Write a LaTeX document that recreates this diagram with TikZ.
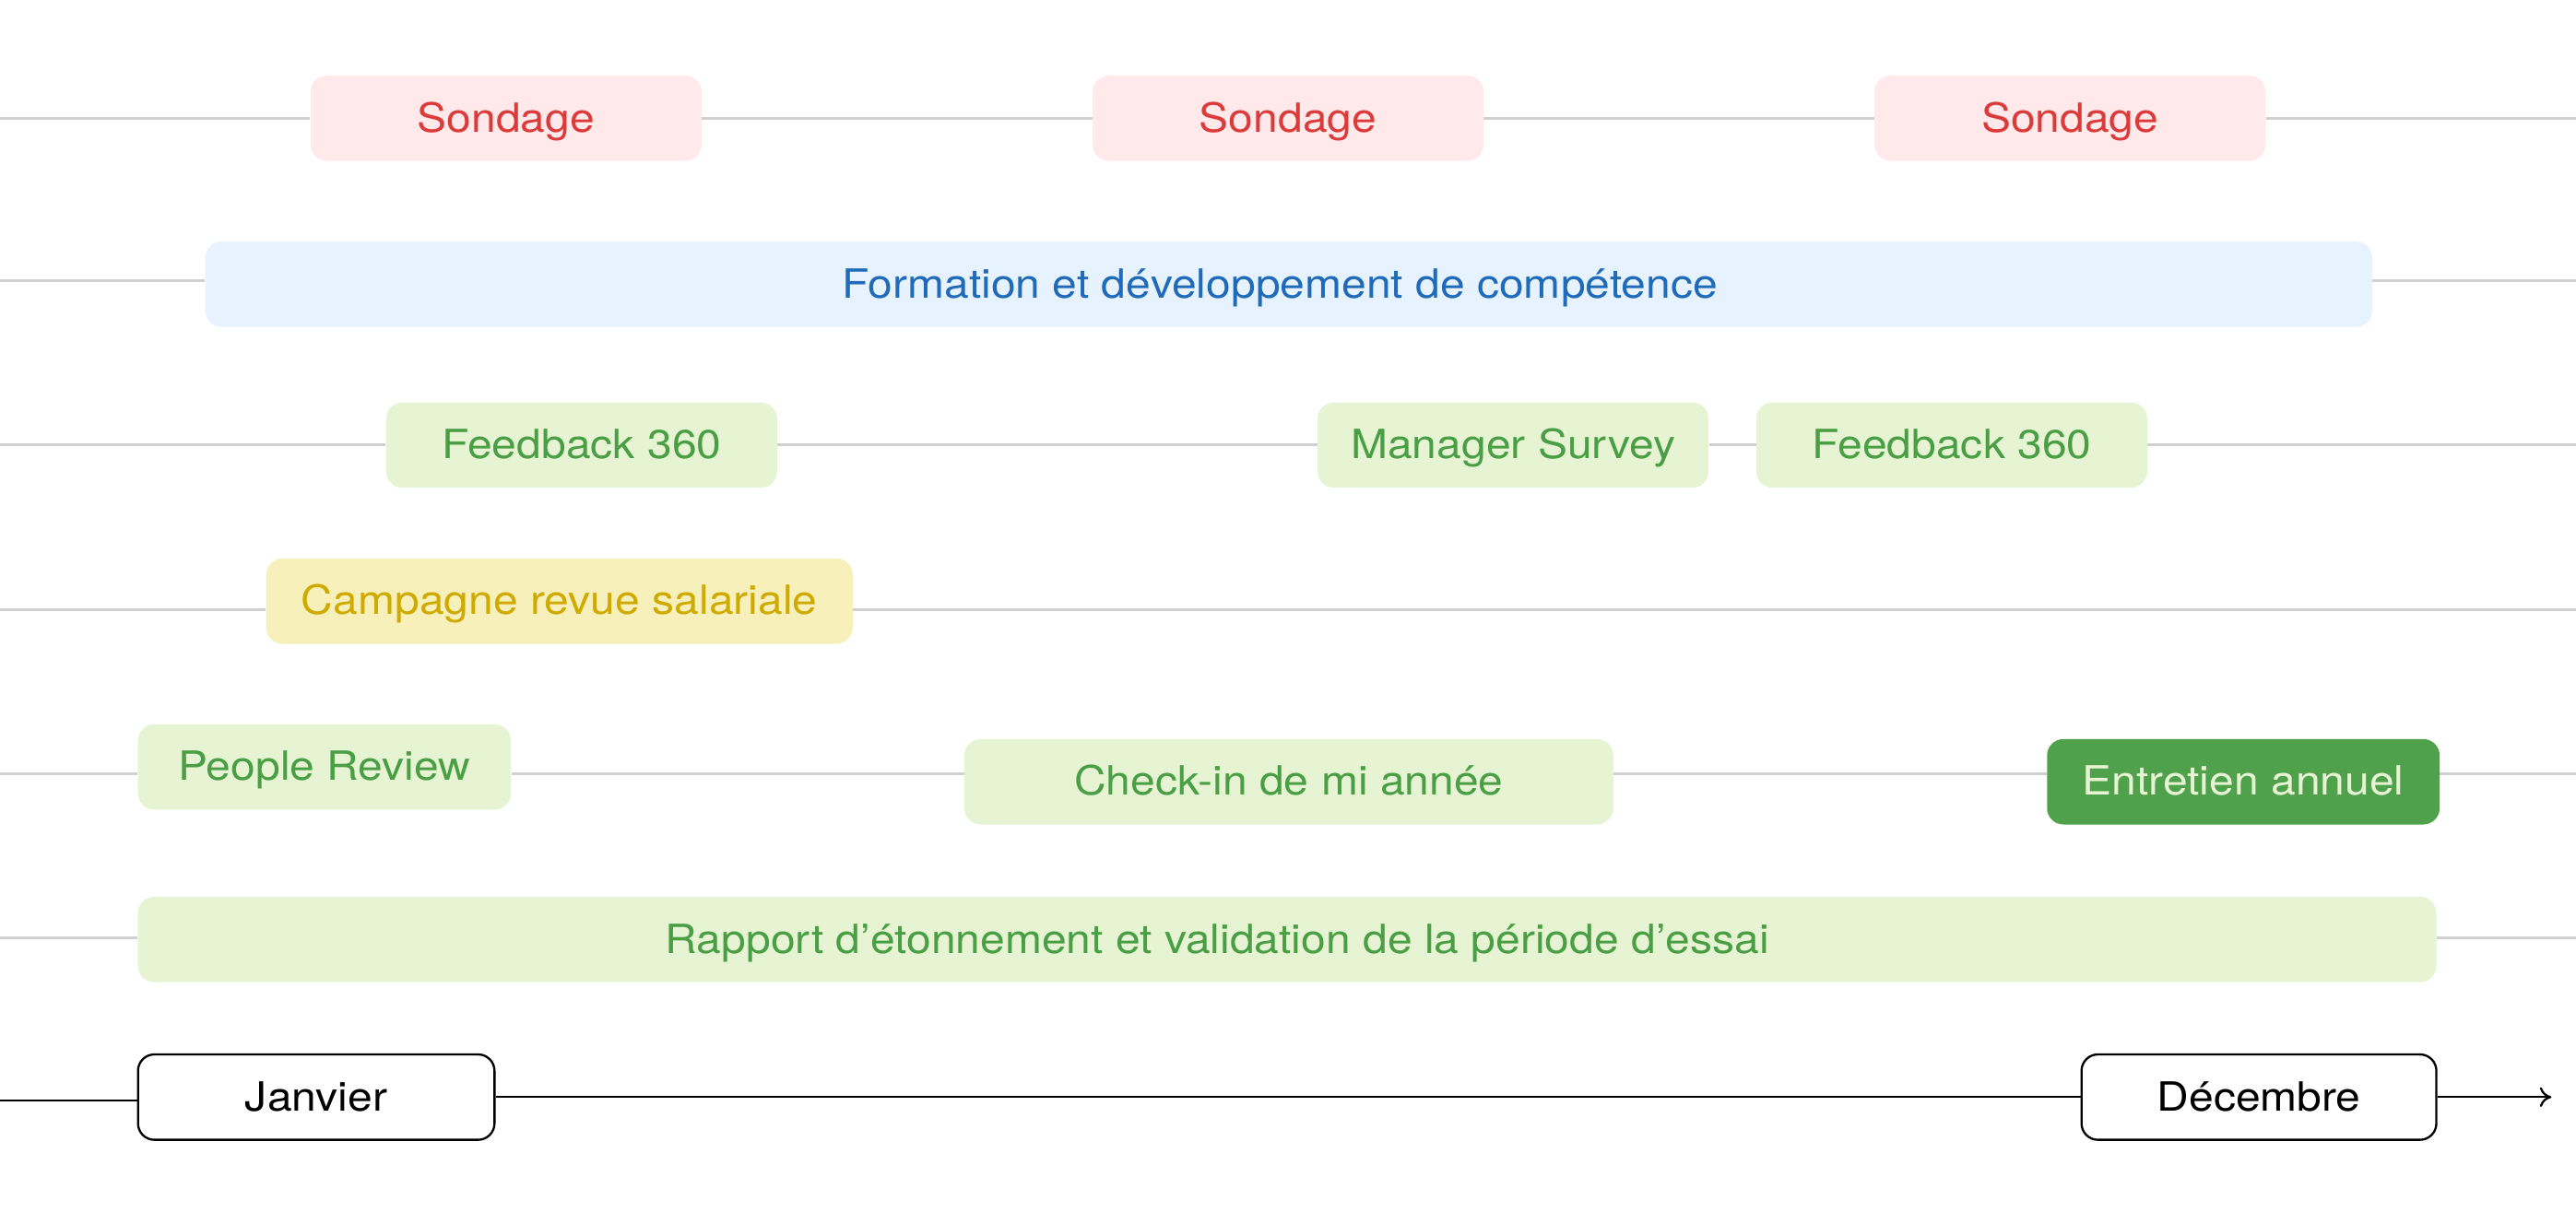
\documentclass[tikz,border=0pt]{standalone}
\usepackage{fontspec}
\setmainfont{TeX Gyre Heros}[FakeStretch=1.10]
\usetikzlibrary{arrows.meta}
\definecolor{grayline}{HTML}{D0D0D0}
\definecolor{pinkfill}{HTML}{FFE9EA}
\definecolor{redtext}{HTML}{DC3B3B}
\definecolor{bluefill}{HTML}{E6F2FD}
\definecolor{bluetext}{HTML}{1F6BBA}
\definecolor{greenfill}{HTML}{E6F4D4}
\definecolor{greentext}{HTML}{4A9F45}
\definecolor{yellowfill}{HTML}{F7F0BB}
\definecolor{yellowtext}{HTML}{CFAA00}
\definecolor{darkgreen}{HTML}{4FA24B}
\pgfdeclarelayer{background}
\pgfsetlayers{background,main}
\begin{document}
\begin{tikzpicture}[x=1pt,y=-1pt,
  tbox/.style={rounded corners=10pt, minimum height=52pt, inner sep=0pt,
    text height=21pt, text depth=4.4pt, font=\fontsize{24.5}{29}\selectfont},
  pinkbox/.style={tbox, fill=pinkfill, text=redtext},
  bluebox/.style={tbox, fill=bluefill, text=bluetext},
  greenbox/.style={tbox, fill=greenfill, text=greentext},
  yellowbox/.style={tbox, fill=yellowfill, text=yellowtext},
  darkbox/.style={tbox, fill=darkgreen, text=greenfill},
  monthbox/.style={tbox, fill=white, draw=black, line width=1.3pt, text=black},
  gline/.style={draw=grayline, line width=1.6pt},
  bline/.style={draw=black, line width=1.3pt}]
\useasboundingbox (0,0) rectangle (1568,745);

% Row 1
\node[pinkbox, minimum width=238pt] (s1) at (308,72) {Sondage};
\node[pinkbox, minimum width=238pt] (s2) at (784,72) {Sondage};
\node[pinkbox, minimum width=238pt] (s3) at (1260,72) {Sondage};
% Row 2
\node[bluebox, minimum width=1319pt] (form) at (784.5,173) {Formation et développement de compétence\hspace*{11pt}};
% Row 3
\node[greenbox, minimum width=238pt] (fb1) at (354,271) {Feedback 360};
\node[greenbox, minimum width=238pt] (ms) at (921,271) {Manager Survey};
\node[greenbox, minimum width=238pt] (fb2) at (1188,271) {Feedback 360};
% Row 4
\node[yellowbox, minimum width=357pt] (camp) at (340.5,366) {Campagne revue salariale};
% Row 5
\node[greenbox, minimum width=227pt] (pr) at (197.5,467) {People Review};
\node[greenbox, minimum width=395pt] (ci) at (784.5,476) {Check-in de mi année};
\node[darkbox, minimum width=239pt] (ea) at (1365.5,476) {Entretien annuel};
% Row 6
\node[greenbox, minimum width=1399pt] (rap) at (783.5,572) {Rapport d’étonnement et validation de la période d’essai\hspace*{85pt}};
% Row 7
\node[monthbox, minimum width=217pt] (jan) at (192.5,668) {Janvier};
\node[monthbox, minimum width=216pt] (dec) at (1375,668) {Décembre};

% free ends
\coordinate (l1) at (0,72);   \coordinate (r1) at (1568,72);
\coordinate (l2) at (0,171);  \coordinate (r2) at (1568,171);
\coordinate (l3) at (0,271);  \coordinate (r3) at (1568,271);
\coordinate (l4) at (0,371);  \coordinate (r4) at (1568,371);
\coordinate (l5) at (0,471);  \coordinate (r5) at (1568,471);
\coordinate (l6) at (0,571);  \coordinate (r6) at (1568,571);
\coordinate (l7) at (0,670);  \coordinate (r7) at (1553,668);

\begin{pgfonlayer}{background}
\draw[gline] (l1) -- (s1.west) (s1.east) -- (s2.west) (s2.east) -- (s3.west) (s3.east) -- (r1);
\draw[gline] (l2) -- (form.west |- l2) (form.east |- r2) -- (r2);
\draw[gline] (l3) -- (fb1.west) (fb1.east) -- (ms.west) (ms.east) -- (fb2.west) (fb2.east) -- (r3);
\draw[gline] (l4) -- (camp.west |- l4) (camp.east |- r4) -- (r4);
\draw[gline] (l5) -- (pr.west |- l5) (pr.east |- l5) -- (ci.west |- l5) (ci.east |- l5) -- (ea.west |- l5) (ea.east |- l5) -- (r5);
\draw[gline] (l6) -- (rap.west |- l6) (rap.east |- r6) -- (r6);
\draw[bline] (l7) -- (jan.west |- l7);
\draw[bline] (jan.east) -- (dec.west);
\draw[bline, -{To[length=7pt,width=12pt]}] (dec.east) -- (r7);
\end{pgfonlayer}
\end{tikzpicture}
\end{document}
